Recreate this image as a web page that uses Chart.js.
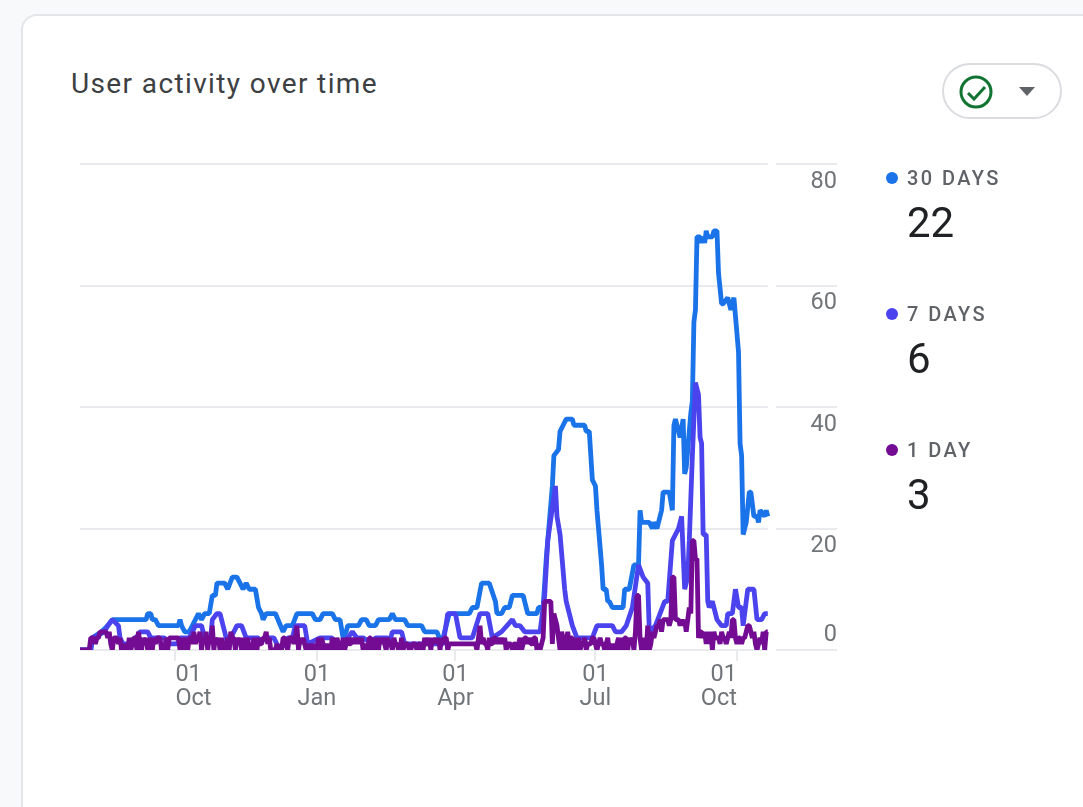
<!DOCTYPE html>
<html>
<head>
<meta charset="utf-8">
<title>User activity over time</title>
<script src="https://cdn.jsdelivr.net/npm/chart.js@4"></script>
<style>
  html, body { margin: 0; padding: 0; background: #f8f9fa; overflow: hidden; }
  body { width: 1083px; height: 807px; position: relative; font-family: Roboto, sans-serif; }
  #card { position: absolute; left: 21px; top: 14px; width: 1100px; height: 850px; background: #fff;
          border: 2px solid #e3e5e8; border-radius: 16px; box-sizing: border-box; }
  #title { position: absolute; left: 71px; top: 67px; font-size: 28px; line-height: 34px; color: #3c4043; letter-spacing: 1.38px; }
  #pill { position: absolute; left: 942px; top: 63px; width: 120px; height: 56px; box-sizing: border-box;
          border: 2px solid #dadce0; border-radius: 28px; }
  #pill svg { position: absolute; left: 0; top: 0; }
  #wrap { position: absolute; left: 0; top: 0; width: 1083px; height: 807px; }
  .lg { position: absolute; left: 886px; }
  .lg i { position: absolute; left: 0; top: 6px; width: 12px; height: 12px; border-radius: 50%; }
  .lg b { position: absolute; left: 21px; top: 0; font-weight: 500; font-size: 20px; line-height: 24px; letter-spacing: 2.4px; color: #5f6368; white-space: nowrap; }
  .lg span { position: absolute; left: 21px; top: 35px; font-size: 42px; line-height: 44px; color: #202124; }
</style>
</head>
<body>
<div id="card"></div>
<div id="title">User activity over time</div>
<div id="pill">
  <svg width="116" height="52" viewBox="0 0 116 52">
    <circle cx="32" cy="27" r="15" fill="none" stroke="#137333" stroke-width="3"/>
    <path d="M24 28 l6 6 l11 -12" fill="none" stroke="#137333" stroke-width="3"/>
    <path d="M75 22 h16 l-8 9 z" fill="#5f6368"/>
  </svg>
</div>
<div id="wrap"><canvas id="myChart" width="1083" height="807"></canvas></div>
<div id="legend"></div>
<script>
const seriesNames = ['30 DAYS', '7 DAYS', '1 DAY'];
const latestValues = ['22', '6', '3'];
const seriesColors = ['#1a73e8', '#4b44ee', '#730b93'];

const yTicks = [0, 20, 40, 60, 80];
const xTickDays = [62, 154, 244, 335, 427];
const xTickLabels = [['01', 'Oct'], ['01', 'Jan'], ['01', 'Apr'], ['01', 'Jul'], ['01', 'Oct']];

// day number counted from the left end of the chart
const days30 = [0, 7, 8, 14, 18, 21, 40, 43, 44, 46, 47, 49, 51, 64, 65, 66, 68, 71, 75, 77, 79, 81, 84, 86, 88, 89, 94, 96, 99, 102, 104, 106, 108, 110, 114, 116, 118, 119, 121, 127, 132, 134, 138, 141, 151, 153, 156, 158, 164, 166, 169, 171, 173, 174, 181, 183, 186, 188, 192, 194, 201, 203, 205, 211, 213, 222, 224, 232, 235, 239, 240, 253, 255, 258, 261, 266, 270, 271, 274, 276, 279, 281, 288, 291, 297, 298, 301, 302, 303, 305, 307, 308, 311, 312, 314, 316, 320, 321, 328, 329, 331, 333, 335, 336, 339, 340, 342, 343, 344, 346, 353, 354, 357, 360, 363, 364, 365, 370, 372, 373, 375, 378, 379, 383, 385, 386, 387, 390, 392, 393, 394, 397, 398, 399, 400, 401, 403, 404, 405, 406, 407, 408, 411, 412, 414, 415, 417, 418, 421, 423, 425, 426, 428, 429, 430, 431, 433, 435, 436, 438, 440, 441, 442, 445, 446, 447];
const values30 = [0, 0, 2, 3, 4, 5, 5, 5, 6, 6, 5, 5, 4, 4, 5, 4, 3, 3, 5, 6, 5, 6, 6, 9, 9, 11, 11, 10, 12, 12, 11, 10, 11, 10, 10, 7, 6, 5, 6, 6, 3, 4, 4, 6, 6, 5, 5, 6, 6, 5, 5, 2, 3, 4, 4, 5, 5, 4, 4, 5, 5, 6, 5, 5, 4, 4, 3, 3, 1, 5, 6, 6, 7, 7, 11, 11, 8, 6, 6, 7, 7, 9, 9, 6, 6, 7, 7, 11, 15, 21, 27, 32, 33, 36, 37, 38, 38, 37, 37, 36, 36, 28, 27, 23, 14, 10, 10, 8, 8, 7, 7, 10, 10, 14, 14, 23, 21, 21, 20, 21, 20, 23, 26, 26, 23, 37, 38, 35, 38, 29, 30, 39, 41, 54, 56, 68, 68, 67, 68, 67, 69, 68, 68, 69, 69, 62, 57, 57, 58, 56, 58, 55, 49, 34, 32, 19, 21, 26, 26, 22, 22, 21, 23, 22, 23, 22];

const days7 = [0, 7, 8, 16, 18, 21, 25, 26, 28, 34, 39, 44, 46, 55, 57, 63, 65, 71, 75, 79, 81, 85, 86, 89, 91, 94, 96, 98, 102, 105, 108, 116, 117, 120, 126, 130, 133, 135, 138, 140, 146, 148, 156, 164, 165, 170, 174, 177, 180, 184, 190, 192, 200, 201, 203, 209, 211, 236, 239, 244, 247, 253, 255, 260, 265, 268, 274, 281, 283, 286, 289, 299, 302, 304, 309, 310, 312, 315, 316, 320, 323, 333, 336, 342, 346, 348, 352, 355, 359, 363, 366, 369, 370, 374, 377, 380, 382, 385, 389, 391, 393, 395, 396, 398, 400, 402, 403, 404, 405, 407, 408, 409, 411, 414, 417, 420, 421, 424, 426, 428, 430, 431, 434, 438, 440, 443, 445, 447];
const values7 = [0, 0, 2, 3, 4, 5, 4, 2, 1, 1, 3, 3, 2, 2, 1, 1, 2, 2, 4, 4, 2, 2, 5, 6, 6, 3, 1, 2, 4, 4, 2, 2, 1, 2, 2, 0, 1, 2, 2, 4, 4, 1, 2, 2, 1, 1, 2, 3, 2, 2, 1, 2, 2, 1, 3, 3, 1, 1, 6, 6, 2, 2, 2, 6, 6, 2, 3, 5, 4, 4, 3, 3, 9, 18, 27, 22, 19, 10, 8, 4, 2, 2, 4, 4, 4, 3, 3, 4, 7, 14, 12, 11, 3, 4, 6, 8, 8, 18, 20, 22, 10, 12, 18, 32, 44, 42, 35, 34, 19, 19, 8, 7, 8, 5, 4, 4, 6, 6, 10, 7, 7, 4, 10, 10, 5, 5, 6, 6];

const values1 = [
  0, 0, 0, 0, 0, 0, 0, 2, 2, 2,
  1, 2, 2, 3, 3, 3, 3, 3, 2, 3,
  1, 0, 2, 2, 2, 1, 2, 0, 1, 0,
  1, 0, 2, 0, 1, 2, 2, 0, 3, 1,
  0, 2, 1, 2, 0, 1, 2, 0, 2, 1,
  2, 2, 2, 0, 1, 0, 2, 0, 2, 2,
  2, 2, 2, 2, 2, 0, 2, 0, 2, 1,
  0, 2, 2, 1, 3, 1, 2, 2, 3, 0,
  2, 1, 3, 0, 2, 1, 4, 0, 2, 1,
  2, 0, 2, 0, 0, 1, 2, 0, 3, 2,
  2, 0, 2, 1, 2, 0, 2, 0, 1, 2,
  0, 1, 0, 2, 0, 0, 2, 1, 1, 2,
  2, 3, 1, 2, 0, 0, 0, 0, 1, 0,
  0, 0, 2, 2, 1, 0, 2, 2, 2, 1,
  2, 4, 0, 2, 1, 2, 1, 0, 0, 1,
  0, 0, 1, 0, 0, 2, 0, 2, 1, 0,
  0, 1, 0, 0, 2, 1, 0, 2, 1, 0,
  0, 2, 0, 1, 2, 1, 1, 2, 1, 2,
  1, 2, 1, 2, 0, 1, 0, 0, 2, 2,
  0, 0, 2, 1, 0, 2, 1, 2, 1, 0,
  2, 1, 1, 0, 2, 1, 1, 0, 0, 2,
  0, 1, 1, 1, 0, 0, 1, 1, 1, 0,
  1, 1, 0, 0, 2, 1, 1, 2, 0, 2,
  1, 2, 1, 2, 0, 2, 1, 2, 2, 0,
  1, 1, 1, 1, 1, 1, 1, 1, 1, 1,
  1, 1, 1, 1, 1, 1, 1, 1, 0, 2,
  4, 1, 2, 1, 1, 0, 2, 1, 1, 2,
  2, 1, 2, 1, 2, 1, 2, 0, 1, 1,
  1, 0, 1, 1, 0, 1, 2, 0, 1, 2,
  2, 1, 2, 1, 1, 2, 2, 0, 1, 0,
  1, 2, 8, 8, 8, 8, 8, 1, 6, 5,
  4, 2, 0, 3, 2, 0, 1, 3, 0, 2,
  2, 0, 2, 0, 2, 0, 1, 1, 2, 0,
  1, 1, 1, 2, 2, 1, 0, 1, 2, 1,
  1, 0, 1, 2, 0, 1, 0, 1, 0, 1,
  2, 0, 2, 0, 2, 2, 0, 2, 1, 2,
  0, 3, 9, 9, 2, 0, 1, 2, 0, 4,
  0, 1, 3, 2, 3, 4, 4, 5, 3, 5,
  5, 5, 5, 4, 5, 12, 12, 5, 5, 5,
  4, 5, 4, 5, 3, 5, 7, 6, 18, 18,
  15, 15, 2, 3, 3, 2, 3, 1, 3, 1,
  3, 0, 3, 2, 2, 2, 1, 3, 2, 2,
  1, 2, 3, 2, 5, 5, 2, 1, 2, 2,
  1, 2, 2, 3, 4, 4, 3, 2, 3, 1,
  0, 1, 2, 1, 3, 0, 3, 3
];

const lastDay = 447;
const axisEndDay = 492;

function pairs(xs, ys) {
  return ys.map((y, i) => ({ x: xs ? xs[i] : i, y: y }));
}

// GA style axis text: the y labels sit under their grid line, first/last x labels are pushed inwards
const axisText = {
  id: 'axisText',
  beforeDatasetsDraw(chart) {
    const { ctx, scales, chartArea } = chart;
    const gapLeft = scales.x.getPixelForValue(lastDay);
    ctx.save();
    ctx.fillStyle = '#fff';
    ctx.fillRect(gapLeft, chartArea.top - 2, 8, chartArea.bottom - chartArea.top + 4);
    ctx.restore();
  },
  afterDraw(chart) {
    const { ctx, scales, chartArea } = chart;
    ctx.save();
    ctx.font = '23.5px Roboto';
    ctx.fillStyle = '#70757a';
    ctx.textBaseline = 'middle';
    ctx.textAlign = 'right';
    yTicks.forEach(v => {
      const y = scales.y.getPixelForValue(v);
      ctx.fillText(String(v), chartArea.right, v === 0 ? y - 15 : y + 18);
    });
    xTickDays.forEach((d, i) => {
      const x = scales.x.getPixelForValue(d);
      ctx.textAlign = i === 0 ? 'left' : (i === xTickDays.length - 1 ? 'right' : 'center');
      ctx.fillText(xTickLabels[i][0], x, 675);
      ctx.fillText(xTickLabels[i][1], x, 699);
    });
    ctx.restore();
  }
};

const chartData = {
  datasets: [2, 1, 0].map(k => ({
    label: seriesNames[k],
    data: k === 0 ? pairs(days30, values30) : k === 1 ? pairs(days7, values7) : pairs(null, values1),
    borderColor: seriesColors[k],
    backgroundColor: seriesColors[k],
    borderWidth: 4.8,
    pointRadius: 0,
    tension: 0,
    borderJoinStyle: 'bevel'
  }))
};

const config = {
  type: 'line',
  data: chartData,
  plugins: [axisText],
  options: {
    responsive: false,
    animation: false,
    parsing: false,
    normalized: true,
    layout: { padding: { left: 80, right: 246, top: 164, bottom: 0 } },
    plugins: { legend: { display: false }, tooltip: { enabled: false }, title: { display: false } },
    scales: {
      x: {
        type: 'linear',
        min: 0,
        max: axisEndDay,
        afterBuildTicks: s => { s.ticks = xTickDays.map(v => ({ value: v })); },
        afterFit: s => { s.height = 157; },
        ticks: { display: false },
        border: { display: false },
        grid: { drawOnChartArea: false, drawTicks: true, tickLength: 11, color: '#e8eaed', lineWidth: 2 }
      },
      y: {
        min: 0,
        max: 80,
        afterBuildTicks: s => { s.ticks = yTicks.map(v => ({ value: v })); },
        afterFit: s => { s.width = 0; },
        ticks: { display: false },
        border: { display: false },
        grid: { drawTicks: false, color: '#e8eaed', lineWidth: 2 }
      }
    }
  }
};

new Chart(document.getElementById('myChart'), config);

const legendTops = [166, 302, 438];
document.getElementById('legend').innerHTML = seriesNames.map((n, i) =>
  '<div class="lg" style="top:' + legendTops[i] + 'px"><i style="background:' + seriesColors[i] + '"></i><b>' + n +
  '</b><span>' + latestValues[i] + '</span></div>').join('');
</script>
</body>
</html>
